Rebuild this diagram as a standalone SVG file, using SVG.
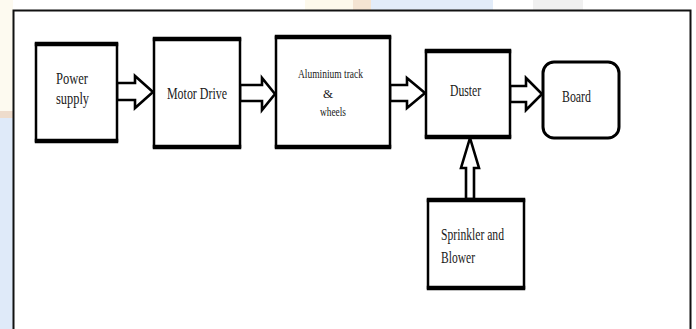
<svg xmlns="http://www.w3.org/2000/svg" width="696" height="329" viewBox="0 0 696 329">
<style>
.box{fill:#fff;stroke:#000;stroke-width:2.5}
.edge{stroke:#000;stroke-width:4.5}
.arr{fill:#fff;stroke:#000;stroke-width:2.6;stroke-linejoin:miter}
.lbl{font-family:'Liberation Serif','DejaVu Serif',serif;fill:#1a1a1a}
.t16{font-size:16px}
.t13{font-size:13px}
</style>
<rect width="696" height="329" fill="#fff"/>
<rect x="0" y="0" width="13" height="111" fill="#fdfaf0"/>
<rect x="0" y="111" width="13" height="7" fill="#eedccc"/>
<rect x="0" y="118" width="13" height="211" fill="#dfeaf9"/>
<rect x="305" y="0" width="48" height="10" fill="#fdf9ec"/>
<rect x="353" y="0" width="18" height="10" fill="#f4e4d2"/>
<rect x="371" y="0" width="122" height="10" fill="#e2ecf9"/>
<rect x="533" y="0" width="50" height="10" fill="#f0f0f0"/>
<rect x="13.5" y="10.5" width="677" height="330" fill="#fff" stroke="#111" stroke-width="2"/>

<g id="connectors">
  <path class="arr" d="M117,83 H135 V76 L153,92 L135,108 V100 H117 Z"/>
  <path class="arr" d="M240,85 H262 V78 L275,94 L262,110 V101 H240 Z"/>
  <path class="arr" d="M390,85 H407 V78 L425,93 L407,108 V101 H390 Z"/>
  <path class="arr" d="M510,86 H526 V78 L542,94 L526,110 V102 H510 Z"/>
  <path class="arr" d="M466,199 V168 H461 L470,138 L479,168 H474 V199 Z"/>
</g>

<g id="power-supply">
  <rect class="box" x="36" y="44" width="81" height="97"/>
  <line class="edge" x1="34.8" y1="44" x2="118.2" y2="44"/>
  <line class="edge" x1="34.8" y1="141" x2="118.2" y2="141"/>
  <text class="lbl t16" font-family="Liberation Serif, serif" x="56" y="84" textLength="32" lengthAdjust="spacingAndGlyphs">Power</text>
  <text class="lbl t16" font-family="Liberation Serif, serif" x="56" y="104" textLength="33" lengthAdjust="spacingAndGlyphs">supply</text>
</g>

<g id="motor-drive">
  <rect class="box" x="154" y="39" width="86" height="108"/>
  <line class="edge" x1="152.8" y1="39" x2="241.2" y2="39"/>
  <line class="edge" x1="152.8" y1="147" x2="241.2" y2="147"/>
  <text class="lbl t16" font-family="Liberation Serif, serif" x="167" y="99" textLength="60" lengthAdjust="spacingAndGlyphs">Motor Drive</text>
</g>

<g id="aluminium-track">
  <rect class="box" x="276" y="37" width="114" height="110"/>
  <line class="edge" x1="274.8" y1="37" x2="391.2" y2="37"/>
  <line class="edge" x1="274.8" y1="147" x2="391.2" y2="147"/>
  <text class="lbl t13" font-family="Liberation Serif, serif" x="298" y="78" textLength="65" lengthAdjust="spacingAndGlyphs">Aluminium track</text>
  <text class="lbl t13" font-family="Liberation Serif, serif" x="328" y="98" text-anchor="middle">&amp;</text>
  <text class="lbl t13" font-family="Liberation Serif, serif" x="320" y="116" textLength="26" lengthAdjust="spacingAndGlyphs">wheels</text>
</g>

<g id="duster">
  <rect class="box" x="426" y="51" width="84" height="86"/>
  <line class="edge" x1="424.8" y1="51" x2="511.2" y2="51"/>
  <line class="edge" x1="424.8" y1="137" x2="511.2" y2="137"/>
  <text class="lbl t16" font-family="Liberation Serif, serif" x="450" y="96" textLength="31" lengthAdjust="spacingAndGlyphs">Duster</text>
</g>

<g id="board">
  <rect x="543" y="62" width="76" height="76" rx="11" ry="11" fill="#fff" stroke="#000" stroke-width="3"/>
  <text class="lbl t16" font-family="Liberation Serif, serif" x="562" y="102" textLength="29" lengthAdjust="spacingAndGlyphs">Board</text>
</g>

<g id="sprinkler-blower">
  <rect class="box" x="428" y="200" width="96" height="88"/>
  <line class="edge" x1="426.8" y1="200" x2="525.2" y2="200"/>
  <line class="edge" x1="426.8" y1="288" x2="525.2" y2="288"/>
  <text class="lbl t16" font-family="Liberation Serif, serif" x="441" y="240" textLength="63" lengthAdjust="spacingAndGlyphs">Sprinkler and</text>
  <text class="lbl t16" font-family="Liberation Serif, serif" x="441" y="263" textLength="34" lengthAdjust="spacingAndGlyphs">Blower</text>
</g>
</svg>
